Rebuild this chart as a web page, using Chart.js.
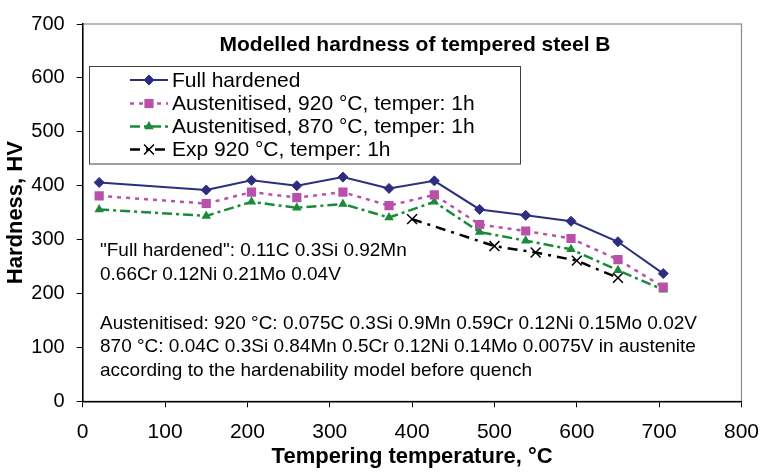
<!DOCTYPE html>
<html>
<head>
<meta charset="utf-8">
<script src="https://cdn.jsdelivr.net/npm/chart.js@4/dist/chart.umd.min.js"></script>
<style>
  html, body { margin: 0; padding: 0; background: #fff; }
  #wrap { width: 771px; height: 472px; }
</style>
</head>
<body>
<div id="wrap"><canvas id="hardChart" width="771" height="472"></canvas></div>
<script>
// tempering temperatures (°C) and hardness (HV)
const temps = [20, 150, 205, 260, 316, 372, 427, 482, 538, 593, 650, 705];
const hvFull = [406, 392, 410, 400, 416, 395, 409, 356, 345, 334, 296, 237];
const hv920 = [381, 367, 388, 378, 388, 363, 383, 328, 316, 302, 263, 212];
const hv870 = [356, 344, 370, 359, 366, 341, 370, 314, 298, 282, 243, 207];
const expTemps = [400, 500, 550, 600, 650];
const hvExp = [338, 288, 276, 261, 229];

const seriesNames = [
    "Full hardened",
    "Austenitised, 920 °C, temper: 1h",
    "Austenitised, 870 °C, temper: 1h",
    "Exp 920 °C, temper: 1h"
];
const xTicks = [0, 100, 200, 300, 400, 500, 600, 700, 800];
const yTicks = [0, 100, 200, 300, 400, 500, 600, 700];

const chartTitle = "Modelled hardness of tempered steel B";
const noteLines = [
    "\"Full hardened\": 0.11C 0.3Si 0.92Mn",
    "0.66Cr 0.12Ni 0.21Mo 0.04V",
    "Austenitised: 920 °C: 0.075C 0.3Si 0.9Mn 0.59Cr 0.12Ni 0.15Mo 0.02V",
    "870 °C: 0.04C 0.3Si 0.84Mn 0.5Cr 0.12Ni 0.14Mo 0.0075V in austenite",
    "according to the hardenability model before quench"
];

const FONT = "'Liberation Sans', Arial, sans-serif";
Chart.defaults.font.family = FONT;
Chart.defaults.color = "#000";

function zip(xs, ys) {
    return xs.map((x, i) => ({ x: x, y: ys[i] }));
}

const NAVY = "#2d2d82";
const MAGENTA = "#b950aa";
const GREEN = "#1b8a3b";

const datasets = [
    {
        label: seriesNames[0], data: zip(temps, hvFull),
        borderColor: NAVY, backgroundColor: NAVY, borderWidth: 2,
        pointStyle: "rectRot", pointRadius: 5, pointBorderWidth: 1
    },
    {
        label: seriesNames[1], data: zip(temps, hv920),
        borderColor: MAGENTA, backgroundColor: MAGENTA, borderWidth: 2.5, borderDash: [4, 5],
        pointStyle: "rect", pointRadius: 6.5, pointBorderWidth: 0
    },
    {
        label: seriesNames[2], data: zip(temps, hv870),
        borderColor: GREEN, backgroundColor: GREEN, borderWidth: 2.5, borderDash: [10, 4, 3, 4],
        pointStyle: "triangle", pointRadius: 5.5, pointBorderWidth: 0
    },
    {
        label: seriesNames[3], data: zip(expTemps, hvExp),
        borderColor: "#000", backgroundColor: "#000", borderWidth: 2.5, borderDash: [10, 6, 3, 6],
        pointStyle: "crossRot", pointRadius: 7, pointBorderWidth: 1.5
    }
];

// grey frame of the plot area, axes are drawn over it
const frame = {
    id: "frame",
    beforeDraw(chart) {
        const a = chart.chartArea, ctx = chart.ctx;
        ctx.save();
        ctx.fillStyle = "#fff";
        ctx.fillRect(0, 0, chart.width, chart.height);
        ctx.strokeStyle = "#8a8a8a";
        ctx.lineWidth = 1.2;
        ctx.strokeRect(a.left, a.top, a.right - a.left, a.bottom - a.top);
        ctx.restore();
    }
};

// title, legend box and composition notes inside the plot area
const extras = {
    id: "extras",
    afterDraw(chart) {
        const ctx = chart.ctx;
        ctx.save();
        ctx.fillStyle = "#000";
        ctx.font = "bold 21px " + FONT;
        ctx.textAlign = "center";
        ctx.textBaseline = "middle";
        ctx.fillText(chartTitle, 415, 45);

        // legend
        ctx.fillStyle = "#fff";
        ctx.fillRect(89.5, 66.5, 431, 97.5);
        ctx.strokeStyle = "#404040";
        ctx.lineWidth = 1;
        ctx.strokeRect(89.5, 66.5, 431, 97.5);
        const rows = [80, 103.5, 126.5, 149.5];
        chart.data.datasets.forEach((ds, i) => {
            const y = rows[i];
            ctx.save();
            ctx.strokeStyle = ds.borderColor;
            ctx.lineWidth = ds.borderWidth;
            ctx.setLineDash(ds.borderDash || []);
            ctx.beginPath();
            ctx.moveTo(130, y);
            ctx.lineTo(168, y);
            ctx.stroke();
            ctx.setLineDash([]);
            ctx.fillStyle = ds.backgroundColor;
            ctx.lineWidth = ds.pointBorderWidth || 1;
            Chart.helpers.drawPoint(ctx, {
                pointStyle: ds.pointStyle, rotation: 0,
                radius: ds.pointRadius, borderWidth: ds.pointBorderWidth
            }, 149, y);
            ctx.restore();
            ctx.fillStyle = "#000";
            ctx.font = "21px " + FONT;
            ctx.textAlign = "left";
            ctx.textBaseline = "middle";
            ctx.fillText(ds.label, 172, y + 1);
        });

        ctx.font = "19px " + FONT;
        ctx.textAlign = "left";
        ctx.textBaseline = "alphabetic";
        const base = [256, 280, 328.5, 352, 375.5];
        noteLines.forEach((t, i) => ctx.fillText(t, 100, base[i]));
        ctx.restore();
    }
};

new Chart(document.getElementById("hardChart").getContext("2d"), {
    type: "line",
    data: { datasets: datasets },
    options: {
        responsive: false,
        animation: false,
        layout: { padding: { left: 0, right: 20, top: 17, bottom: 0 } },
        plugins: { legend: { display: false }, tooltip: { enabled: false } },
        scales: {
            x: {
                type: "linear", min: 0, max: 800,
                afterBuildTicks: (s) => { s.ticks = xTicks.map(v => ({ value: v })); },
                afterFit: (s) => { s.height = 70.7; },
                grid: { drawOnChartArea: false, drawTicks: true, tickLength: 6, tickColor: "#000", tickWidth: 1 },
                border: { color: "#000", width: 1.5 },
                ticks: { font: { size: 21 }, padding: 12, color: "#000", maxRotation: 0 },
                title: { display: true, text: "Tempering temperature, °C", font: { size: 22, weight: "bold" }, padding: { top: 0, bottom: 2 }, color: "#000" }
            },
            y: {
                type: "linear", min: 0, max: 700,
                afterBuildTicks: (s) => { s.ticks = yTicks.map(v => ({ value: v })); },
                afterFit: (s) => { s.width = 82.7; },
                grid: { drawOnChartArea: false, drawTicks: true, tickLength: 6, tickColor: "#000", tickWidth: 1 },
                border: { color: "#000", width: 1.5 },
                ticks: { font: { size: 20 }, padding: 12, color: "#000" },
                title: { display: true, text: "Hardness, HV", font: { size: 22, weight: "bold" }, padding: { top: 3, bottom: 0 }, color: "#000" }
            }
        }
    },
    plugins: [frame, extras]
});
</script>
</body>
</html>
